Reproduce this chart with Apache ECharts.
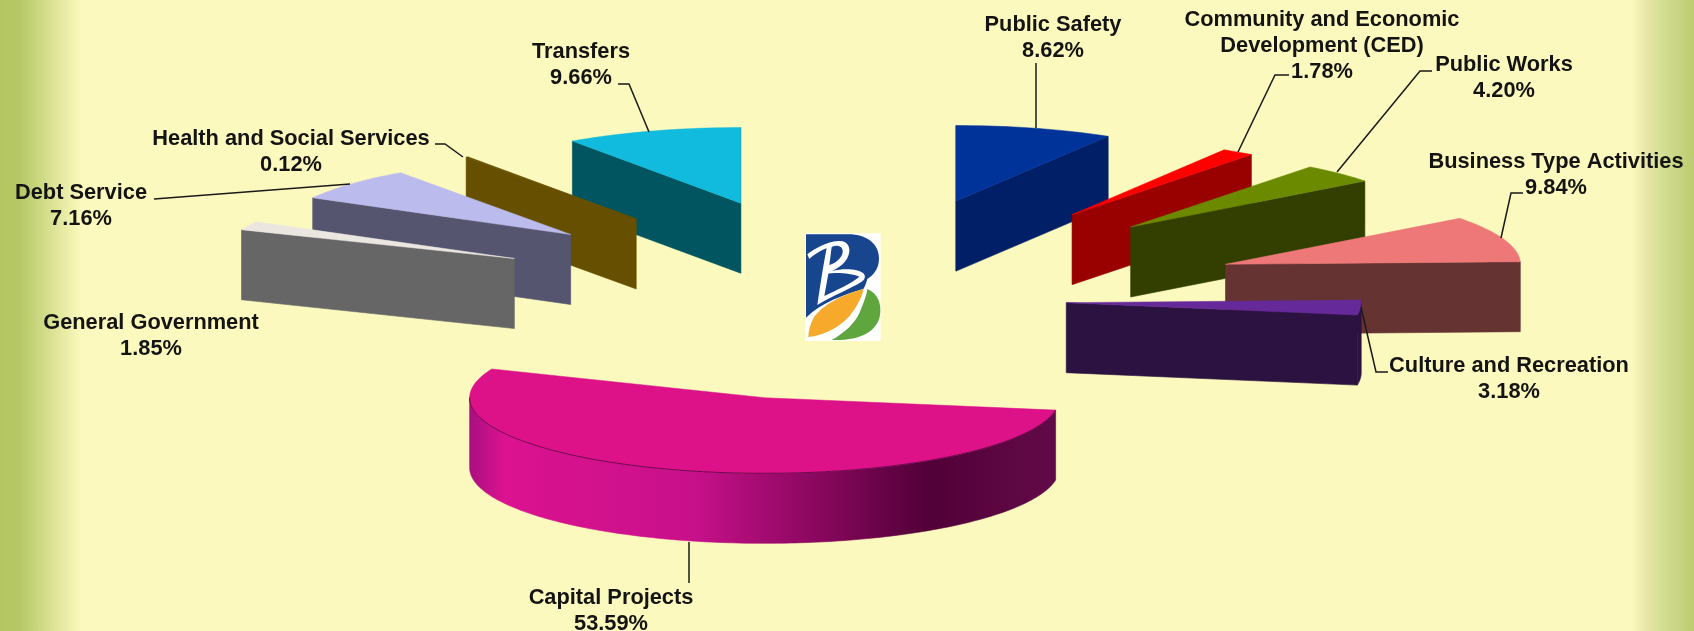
<!DOCTYPE html>
<html><head><meta charset="utf-8">
<style>html,body{margin:0;padding:0;background:#fbf9bd}#c{width:1694px;height:631px}</style>
<script src="https://cdn.jsdelivr.net/npm/echarts@6/dist/echarts.min.js"></script>
</head><body><div id="c"></div>
<script>
// ---- data ----
const categories = ['Public Safety','Community and Economic\nDevelopment (CED)','Public Works','Business Type Activities','Culture and Recreation','Capital Projects','General Government','Debt Service','Health and Social Services','Transfers'];
const shares = [8.62,1.78,4.20,9.84,3.18,53.59,1.85,7.16,0.12,9.66];
const shareLabels = ['8.62%','1.78%','4.20%','9.84%','3.18%','53.59%','1.85%','7.16%','0.12%','9.66%'];
// ---- pie layout ----
const center = [856,299], radius = [295,75.6], explodeR = [378,102.6], depth = 70;
const explode = [0.97,1.03,1.02,1.03,0.56,0.96,1.0,1.0,1.0,1.03];
const nudge = [[2,-2],[-3,3],[2,2],[3,1],[-1,0],[8,4],[-1,4],[-4,4],[-3,4],[1,5]];
// ---- styling ----
const topColors = ['#003399','#ff0000','#6b8a00','#ee7777','#66299a','#dd1188','#ebe6e0','#bbbbee','#665000','#11bbdd'];
const sideColors = ['#001f66','#990000','#333f00','#663333','#2c1240','#dd1188','#666666','#555570','#665000','#005560'];
const capitalStops = [[0,'#a80f80'],[0.06,'#dc1290'],[0.38,'#c8108a'],[0.78,'#520038'],[1,'#620a48']];
// ---- label layout: centre x, first line y, leader polyline ----
const labelX = [1053,1322,1504,1556,1509,611,151,81,291,581];
const labelY = [24.5,19.5,64.5,161.5,365.5,597.5,322.5,192.5,138.5,51.5];
const leaders = [
 [[1036,63],[1036,128]],
 [[1289,75],[1275,75],[1238,152]],
 [[1432,71],[1420,71],[1337,172]],
 [[1523,193],[1511,193],[1501,238]],
 [[1388,372],[1376,372],[1361,307]],
 [[689,583],[689,542]],
 [],
 [[154,199],[350,184]],
 [[435,144],[445,144],[463,157]],
 [[618,84],[629,84],[649,132]]
];
const logoPaths = [
 ['#ffffff','M75 55L302 55L302 378L75 378Z'],
 ['#17468f','M78 58L205 58C262 58 297 88 297 130C297 160 282 180 262 192C258 205 255 215 250 222C190 240 125 262 78 308Z'],
 ['#ffffff','M82 118C105 100 140 80 175 78C205 76 214 100 205 122C198 142 178 158 155 168C190 160 232 160 250 175C258 182 255 195 245 200C210 222 160 240 112 270C120 220 128 160 140 100C125 105 100 120 88 132Z'],
 ['#17468f','M155 96C170 88 190 92 188 112C186 130 165 146 148 150Z'],
 ['#17468f','M145 176C170 172 215 175 238 185C215 205 170 225 133 243Z'],
 ['#f6a92a','M250 222C190 238 125 270 100 310C90 330 85 350 85 366C130 362 190 335 222 285C238 260 248 240 250 222Z'],
 ['#5fa63f','M262 222C295 235 305 270 300 300C292 350 240 378 155 375C195 352 225 325 240 290C250 265 260 240 262 222Z']
];
const anchor = 'M0 0L0 0M360 405L360 405';

// cumulative start angle of every slice, clockwise from 12 o'clock
const total = shares.reduce((a,b)=>a+b,0);
const starts = []; shares.reduce((acc,v,i)=>{starts[i]=acc; return acc+v;},0);
const toAngle = v => v/total*Math.PI*2;
const midAngle = i => toAngle(starts[i]+shares[i]/2);
// back-to-front drawing order
const order = categories.map((_,i)=>i).sort((a,b)=>Math.cos(midAngle(b))-Math.cos(midAngle(a)));
const rows = order.map(i=>[i,starts[i],shares[i]]);

function sideQuad(api,p,q,fill,z){
  const pts=[...p,...q.slice().reverse()].map(d=>api.coord(d));
  return {type:'polygon',z2:z,shape:{points:pts},style:{fill:fill,stroke:fill,lineWidth:0.6}};
}
function renderItem(params,api){
  const idx=api.value(0), a0=toAngle(api.value(1)), a1=a0+toAngle(api.value(2));
  const m=(a0+a1)/2, e=explode[idx];
  const ax=center[0]+explodeR[0]*e*Math.sin(m)+nudge[idx][0], ay=center[1]-explodeR[1]*e*Math.cos(m)+nudge[idx][1];
  const rank=order.indexOf(idx)*10;
  const P=t=>[ax+radius[0]*Math.sin(t),ay-radius[1]*Math.cos(t)];
  const down=p=>[p[0],p[1]+depth];
  const n=Math.max(2,Math.ceil((a1-a0)/0.03));
  const arc=[]; for(let k=0;k<=n;k++) arc.push(P(a0+(a1-a0)*k/n));
  const apex=[ax,ay], kids=[];
  const side=sideColors[idx];
  // cut faces, visible when their top edge runs leftwards on a clockwise outline
  [[apex,arc[0]],[arc[n],apex]].forEach(([u,v])=>{
    if(v[0]-u[0]<=0.5) kids.push(sideQuad(api,[u,v],[down(u),down(v)],side,rank+1));
  });
  // outer rim: only the near half of the ellipse shows
  const lo=Math.max(a0,Math.PI/2), hi=Math.min(a1,Math.PI*1.5);
  if(hi>lo){
    const rim=[]; const c=Math.ceil((hi-lo)/0.02);
    for(let k=0;k<=c;k++) rim.push(P(lo+(hi-lo)*k/c));
    const fill=idx===5?new echarts.graphic.LinearGradient(0,0,1,0,capitalStops.map(s=>({offset:s[0],color:s[1]}))):side;
    kids.push(sideQuad(api,rim,rim.map(down),fill,rank+2));
    if(idx===5) kids.push({type:'polyline',z2:rank+4,shape:{points:rim.map(p=>api.coord(p))},style:{fill:null,stroke:'#6d0a4e',lineWidth:1}});
  }
  kids.push({type:'polygon',z2:rank+3,shape:{points:[apex,...arc].map(d=>api.coord(d))},style:{fill:topColors[idx],stroke:topColors[idx],lineWidth:0.5}});
  // leader and text sit above every slice
  if(leaders[idx].length) kids.push({type:'polyline',z2:1000,shape:{points:leaders[idx].map(d=>api.coord(d))},style:{fill:null,stroke:'#1a1a1a',lineWidth:1.5}});
  const pos=api.coord([labelX[idx],labelY[idx]-13]);
  kids.push({type:'text',z2:1001,x:pos[0],y:pos[1],style:{text:categories[idx]+'\n'+shareLabels[idx],fill:'#141414',font:'bold 21.8px "Liberation Sans"',lineHeight:26,align:'center',verticalAlign:'top'}});
  return {type:'group',children:kids};
}
function renderLogo(params,api){
  const o=api.coord([780,215]), f=api.coord([900,350]);
  return {type:'group',children:logoPaths.map((p,i)=>({type:'path',z2:i,shape:{pathData:anchor+p[1],x:o[0],y:o[1],width:f[0]-o[0],height:f[1]-o[1],layout:'cover'},style:{fill:p[0]}}))};
}
const chart=echarts.init(document.getElementById('c'),null,{renderer:'canvas'});
chart.setOption({
  animation:false,
  backgroundColor:new echarts.graphic.LinearGradient(0,0,1,0,[
    {offset:0,color:'#b2c660'},{offset:0.012,color:'#b6c866'},{offset:0.048,color:'#fbf9bd'},
    {offset:0.963,color:'#fbf9bd'},{offset:0.972,color:'#e8e6a8'},{offset:0.98,color:'#d6e096'},{offset:1,color:'#bccc70'}]),
  grid:{left:0,right:0,top:0,bottom:0},
  xAxis:{type:'value',min:0,max:1694,show:false},
  yAxis:{type:'value',min:0,max:631,inverse:true,show:false},
  series:[
   {type:'custom',coordinateSystem:'cartesian2d',clip:false,silent:true,data:rows,renderItem:renderItem,encode:{x:1,y:2}},
   {type:'custom',coordinateSystem:'cartesian2d',clip:false,silent:true,data:[[0,0]],renderItem:renderLogo}
  ]
});
</script></body></html>
